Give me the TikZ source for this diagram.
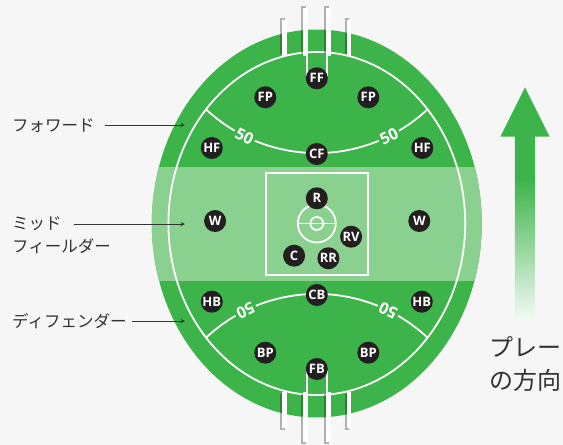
\documentclass[tikz,border=0pt]{standalone}
\usepackage{fontspec}
\setmainfont{Open Sans}
\newfontfamily\jpfont{Noto Sans CJK JP}
\usetikzlibrary{calc}
\definecolor{fieldgreen}{RGB}{61,180,74}
\definecolor{wingband}{RGB}{138,209,143}
\definecolor{paper}{RGB}{246,246,246}
\definecolor{dot}{RGB}{35,31,32}
\definecolor{ink}{RGB}{51,51,51}
\def\drawline{\draw[color=white, line width=1.8pt]}
\def\drawpost{\fill[color=white]}
\def\drawshadow{\fill[color=black, opacity=0.28]}
\def\drawpointer{\draw[-stealth, color=ink, line width=1pt]}
\def\playernode{\node[circle,fill=dot,text=white,minimum size=22pt,inner sep=0pt,font=\bfseries\fontsize{13}{13}\selectfont]}
\def\fiftynode{\node[fill=fieldgreen,text=white,inner xsep=2pt,inner ysep=0.5pt,font=\bfseries\fontsize{16}{16}\selectfont]}
\def\zonenode{\node[anchor=west,inner sep=0pt,text=ink,font=\jpfont\fontsize{16.5}{20}\selectfont]}

\begin{document}
\begin{tikzpicture}[x=1pt,y=1pt]
\useasboundingbox[fill=paper] (-316.8,-221.5) rectangle (246.2,223.5);
\coordinate (o) at (0,0); % centre of the ground, the rest hangs off this

% -------- the ground ---------
\fill[fieldgreen] (o) ellipse (165 and 194);
\begin{scope}
\clip (o) ellipse (165 and 194);
\fill[wingband] ($ (o) + (-170,56.5) $) rectangle ($ (o) + (170,-57.5) $); % midfield band
\end{scope}
\drawline (o) ellipse (148.4 and 171.5); % boundary line

% centre square and circle
\drawline ($ (o) + (-51,50.5) $) rectangle ($ (o) + (51,-51.5) $);
\drawline ($ (o) + (-19,0) $) -- ($ (o) + (19,0) $);
\drawline (o) circle (19);
\drawline (o) circle (6.5);

% ----------The 50 arcs
\coordinate (top_arc) at ($ (o) + (0,232.4) $); % centre of the forward arc
\coordinate (bottom_arc) at ($ (o) + (0,-232.4) $); % centre of the back arc
\begin{scope}
\clip (o) ellipse (148.4 and 171.5);
\drawline ($ (top_arc) + (215:162) $) arc[start angle=215, end angle=325, radius=162];
\drawline ($ (bottom_arc) + (35:162) $) arc[start angle=35, end angle=145, radius=162];
\end{scope}

% goal squares
\coordinate (gs_tl) at ($ (o) + (-10,171.5) $);
\coordinate (gs_tr) at ($ (o) + (10,171.5) $);
\coordinate (gs_bl) at ($ (o) + (-10,-171.5) $);
\coordinate (gs_br) at ($ (o) + (10,-171.5) $);
\drawline (gs_tl) -- ($ (gs_tl) + (0,-24) $);
\drawline (gs_tr) -- ($ (gs_tr) + (0,-24) $);
\drawline (gs_bl) -- ($ (gs_bl) + (0,24) $);
\drawline (gs_br) -- ($ (gs_br) + (0,24) $);

% -------- goal posts, shadow first ---------
\drawshadow ($ (o) + (-36.5,170) $) rectangle ($ (o) + (-32,205.5) $);
\drawshadow ($ (o) + (-16,170) $) rectangle ($ (o) + (-11,218) $);
\drawshadow ($ (o) + (7,170) $) rectangle ($ (o) + (12,218) $);
\drawshadow ($ (o) + (28,170) $) rectangle ($ (o) + (32.5,205.5) $);
\drawpost ($ (o) + (-34.5,168) $) rectangle ($ (o) + (-30,203.5) $);
\drawpost ($ (o) + (-14,168) $) rectangle ($ (o) + (-9,216) $);
\drawpost ($ (o) + (9,168) $) rectangle ($ (o) + (14,216) $);
\drawpost ($ (o) + (30,168) $) rectangle ($ (o) + (34.5,203.5) $);

\drawshadow ($ (o) + (-36.5,-170) $) rectangle ($ (o) + (-32,-206.8) $);
\drawshadow ($ (o) + (-16,-170) $) rectangle ($ (o) + (-11,-220.2) $);
\drawshadow ($ (o) + (7,-170) $) rectangle ($ (o) + (12,-220.2) $);
\drawshadow ($ (o) + (28,-170) $) rectangle ($ (o) + (32.5,-206.8) $);
\drawpost ($ (o) + (-34.5,-168) $) rectangle ($ (o) + (-30,-204.8) $);
\drawpost ($ (o) + (-14,-168) $) rectangle ($ (o) + (-9,-218.2) $);
\drawpost ($ (o) + (9,-168) $) rectangle ($ (o) + (14,-218.2) $);
\drawpost ($ (o) + (30,-168) $) rectangle ($ (o) + (34.5,-204.8) $);

% 50 labels sit on the arcs, the bottom ones upside down
\fiftynode (fifty_tl) [rotate=-26.5] at ($ (top_arc) + (243.5:162) $) {50};
\fiftynode (fifty_tr) [rotate=26.5] at ($ (top_arc) + (296.5:162) $) {50};
\fiftynode (fifty_bl) [rotate=206.1] at ($ (bottom_arc) + (116.1:162) $) {50};
\fiftynode (fifty_br) [rotate=153.9] at ($ (bottom_arc) + (63.9:162) $) {50};

% -------- players ---------
\playernode (ff) at ($ (o) + (0,145.2) $) {FF};
\playernode (fp_l) at ($ (o) + (-51.5,126.2) $) {FP};
\playernode (fp_r) at ($ (o) + (51.5,126.2) $) {FP};
\playernode (hf_l) at ($ (o) + (-105,75.5) $) {HF};
\playernode (hf_r) at ($ (o) + (105.5,75.5) $) {HF};
\playernode (cf) at ($ (o) + (0,69.5) $) {CF};
\playernode (r) at ($ (o) + (0,25.2) $) {R};
\playernode (w_l) at ($ (o) + (-101.7,2.5) $) {W};
\playernode (w_r) at ($ (o) + (102.5,2.5) $) {W};
\playernode (rv) at ($ (o) + (34.3,-13.2) $) {RV};
\playernode (c) at ($ (o) + (-22.7,-32.2) $) {C};
\playernode (rr) at ($ (o) + (11.6,-34.8) $) {RR};
\playernode (cb) at ($ (o) + (0,-71.5) $) {CB};
\playernode (hb_l) at ($ (o) + (-105,-78.2) $) {HB};
\playernode (hb_r) at ($ (o) + (105,-78.2) $) {HB};
\playernode (bp_l) at ($ (o) + (-51.5,-129.2) $) {BP};
\playernode (bp_r) at ($ (o) + (51.5,-129.2) $) {BP};
\playernode (fb) at ($ (o) + (0,-145.5) $) {FB};
% ------ end players ------

% zone names on the left, pointing at the ground
\zonenode (fwd_label) at ($ (o) + (-304.8,98) $) {フォワード};
\coordinate (fwd_tip) at ($ (o) + (-131.8,98.5) $);
\drawpointer[shorten <=10pt] (fwd_label.east |- fwd_tip) -- (fwd_tip);

\zonenode (mid_label) at ($ (o) + (-304.8,-0.5) $) {ミッド};
\zonenode (mid_label_b) at ($ (mid_label.west) + (0,-21.7) $) {フィールダー};
\coordinate (mid_tip) at ($ (o) + (-131.8,-0.5) $);
\drawpointer[shorten <=12pt] (mid_label.east |- mid_tip) -- (mid_tip);

\zonenode (def_label) at ($ (o) + (-304.8,-97.5) $) {ディフェンダー};
\coordinate (def_tip) at ($ (o) + (-131.8,-97.5) $);
\drawpointer[shorten <=5pt] (def_label.east |- def_tip) -- (def_tip);

% ----------The direction of play arrow on the right
\coordinate (play_tip) at ($ (o) + (208.2,136.2) $);
\shade[top color=fieldgreen, bottom color=fieldgreen!6!white] ($ (play_tip) + (-10,-92) $) rectangle ($ (play_tip) + (10,-232.7) $);
\fill[fieldgreen] (play_tip) -- ($ (play_tip) + (24.6,-49.4) $) -- ($ (play_tip) + (10,-49.4) $)
  -- ($ (play_tip) + (10,-92.7) $) -- ($ (play_tip) + (-10,-92.7) $) -- ($ (play_tip) + (-10,-49.4) $)
  -- ($ (play_tip) + (-24.6,-49.4) $) -- cycle;
\node[anchor=west, inner sep=0pt, align=left, text=ink, font=\jpfont\fontsize{24}{33}\selectfont] (play_label) at ($ (o) + (172.2,-141) $) {プレー\\の方向};
\end{tikzpicture}
\end{document}
